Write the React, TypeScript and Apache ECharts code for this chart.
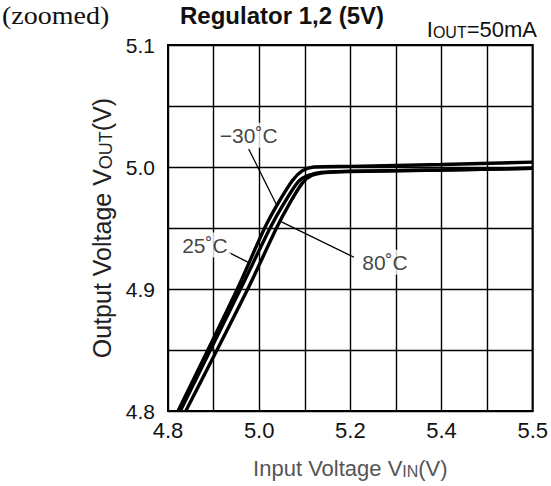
import React, { useEffect, useRef } from "react";
import * as echarts from "echarts";

// Axis setup (Input voltage VIN on x, output voltage VOUT on y)
const xMin = 4.8;
const xMax = 5.6;
const xStep = 0.1;
const yMin = 4.8;
const yMax = 5.1;
const yStep = 0.05;
const xTickValues = [4.8, 5.0, 5.2, 5.4, 5.6];
const xTickTexts = ["4.8", "5.0", "5.2", "5.4", "5.5"];
const yTickValues = [4.8, 4.9, 5.0, 5.1];
const yTickTexts = ["4.8", "4.9", "5.0", "5.1"];

// Curves
const vinM30 = [4.822, 4.952, 5.012, 5.041, 5.073, 5.095, 5.12, 5.2, 5.4, 5.6];
const voutM30 = [4.8, 4.9, 4.95, 4.97, 4.989, 4.997, 5.0, 5.0005, 5.002, 5.004];

const vin25 = [4.827, 4.959, 5.024, 5.054, 5.086, 5.107, 5.135, 5.2, 5.4, 5.6];
const vout25 = [4.8, 4.9, 4.95, 4.97, 4.988, 4.993, 4.9956, 4.9965, 4.9975, 4.999];

const vin80 = [4.839, 4.975, 5.038, 5.065, 5.095, 5.115, 5.145, 5.2, 5.4, 5.6];
const vout80 = [4.8, 4.9, 4.95, 4.969, 4.987, 4.993, 4.9954, 4.9963, 4.9975, 4.999];

// Curve annotations (label anchor and leader line, in data coordinates)
const annoTexts = ["\u221230\u02daC", "25\u02daC", "80\u02daC"];
const annoLabelX = [4.977, 4.881, 5.276];
const annoLabelY = [5.026, 4.936, 4.922];
const leaderFromX = [4.977, 4.933, 5.208];
const leaderFromY = [5.0148, 4.93, 4.926];
const leaderToX = [5.038, 4.975, 5.049];
const leaderToY = [4.969, 4.922, 4.955];

const FONT = "Liberation Sans, Arial, Helvetica, sans-serif";

function pick(values: number[], texts: string[], v: number): string {
  for (let i = 0; i < values.length; i++) {
    if (Math.abs(values[i] - v) < 1e-6) return texts[i];
  }
  return "";
}

function zip(xs: number[], ys: number[]): number[][] {
  return xs.map((x, i) => [x, ys[i]]);
}

export default function App() {
  const ref = useRef<HTMLDivElement>(null);
  useEffect(() => {
    const chart = echarts.init(ref.current!, null, { renderer: "svg" });
    const curveStyle = { color: "#000", width: 3.4 };
    const curves = [
      zip(vinM30, voutM30),
      zip(vin25, vout25),
      zip(vin80, vout80),
    ].map((data, i) => ({
      type: "line",
      name: annoTexts[i],
      data,
      showSymbol: false,
      smooth: 0.3,
      lineStyle: curveStyle,
      silent: true,
      z: 3,
    }));
    const leaders = annoTexts.map((t, i) => ({
      type: "line",
      name: "leader" + i,
      data: [
        [leaderFromX[i], leaderFromY[i]],
        [leaderToX[i], leaderToY[i]],
      ],
      showSymbol: false,
      lineStyle: { color: "#000", width: 1.3 },
      silent: true,
      z: 4,
    }));
    const labels = {
      type: "scatter",
      data: annoTexts.map((t, i) => [annoLabelX[i], annoLabelY[i], t]),
      symbolSize: 0,
      silent: true,
      z: 6,
      label: {
        show: true,
        position: "inside",
        formatter: (p: any) => p.data[2],
        fontFamily: FONT,
        fontSize: 21,
        color: "#111",
        backgroundColor: "#fff",
        padding: [2, 3],
      },
    };

    chart.setOption({
      animation: false,
      backgroundColor: "#fff",
      textStyle: { fontFamily: FONT },
      grid: {
        left: 168,
        right: 17,
        top: 45,
        bottom: 75,
        show: true,
        borderColor: "#000",
        borderWidth: 2,
        containLabel: false,
      },
      xAxis: {
        type: "value",
        min: xMin,
        max: xMax,
        interval: xStep,
        axisLine: { show: true, lineStyle: { color: "#000", width: 2 } },
        axisTick: { show: false },
        splitLine: { show: true, lineStyle: { color: "#000", width: 1.4 } },
        axisLabel: {
          formatter: (v: number) => pick(xTickValues, xTickTexts, v),
          fontSize: 22,
          color: "#111",
          margin: 8,
          fontFamily: FONT,
        },
        name: "{a|Input Voltage V}{b|IN}{a|(V)}",
        nameLocation: "middle",
        nameGap: 46,
        nameTextStyle: {
          rich: {
            a: { fontSize: 22, color: "#555", fontFamily: FONT },
            b: { fontSize: 16, color: "#555", fontFamily: FONT, verticalAlign: "bottom", padding: [5, 0, 0, 0] },
          },
        },
      },
      yAxis: {
        type: "value",
        min: yMin,
        max: yMax,
        interval: yStep,
        axisLine: { show: true, lineStyle: { color: "#000", width: 2 } },
        axisTick: { show: false },
        splitLine: { show: true, lineStyle: { color: "#000", width: 1.4 } },
        axisLabel: {
          formatter: (v: number) => pick(yTickValues, yTickTexts, v),
          fontSize: 21,
          color: "#111",
          margin: 13,
          fontFamily: FONT,
        },
        name: "{a|Output Voltage V}{b|OUT}{a|(V)}",
        nameLocation: "middle",
        nameGap: 52,
        nameTextStyle: {
          rich: {
            a: { fontSize: 25, color: "#222", fontFamily: FONT },
            b: { fontSize: 18, color: "#222", fontFamily: FONT, verticalAlign: "bottom", padding: [6, 0, 0, 0] },
          },
        },
      },
      graphic: [
        {
          type: "text",
          x: 2,
          y: 3,
          scaleX: 1.12,
          style: {
            text: "(zoomed)",
            font: "25px 'Liberation Serif', 'Times New Roman', serif",
            fill: "#111",
          },
        },
        {
          type: "text",
          x: 282,
          y: 15,
          style: {
            text: "Regulator 1,2 (5V)",
            font: "bold 24px " + FONT,
            fill: "#111",
            align: "center",
            verticalAlign: "middle",
          },
        },
        {
          type: "text",
          x: 537,
          y: 40,
          style: {
            text: "{a|I}{b|OUT}{a|=50mA}",
            align: "right",
            verticalAlign: "bottom",
            rich: {
              a: { fontSize: 22, fontFamily: FONT, fill: "#111" },
              b: { fontSize: 16, fontFamily: FONT, fill: "#111", verticalAlign: "bottom", padding: [5, 0, 0, 0] },
            },
          },
        },
      ],
      series: [...curves, ...leaders, labels],
    });
    return () => chart.dispose();
  }, []);
  return (
    <div
      ref={ref}
      style={{ position: "fixed", left: 0, top: 0, width: 551, height: 486, background: "#fff" }}
    />
  );
}
